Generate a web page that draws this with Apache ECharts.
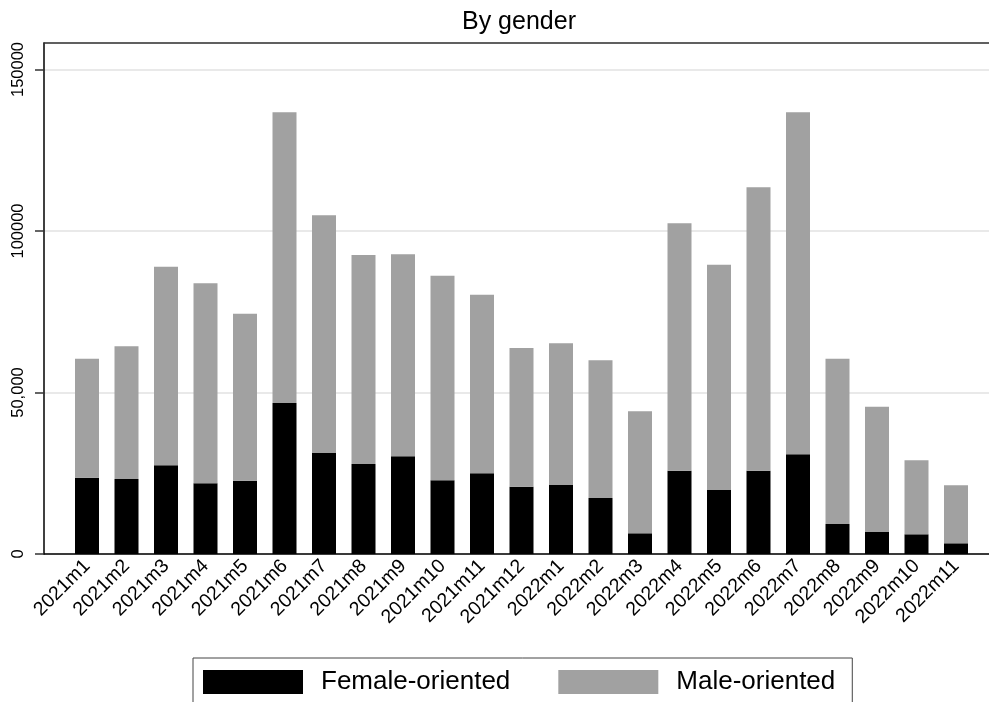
<!DOCTYPE html>
<html>
<head>
<meta charset="utf-8">
<script src="https://cdn.jsdelivr.net/npm/echarts@6/dist/echarts.min.js"></script>
<style>
  html, body { margin: 0; padding: 0; background: #fff; }
  #chart { width: 989px; height: 702px; }
</style>
</head>
<body>
<div id="chart"></div>
<script>
const categories = ['2021m1','2021m2','2021m3','2021m4','2021m5','2021m6','2021m7','2021m8','2021m9','2021m10','2021m11','2021m12',
  '2022m1','2022m2','2022m3','2022m4','2022m5','2022m6','2022m7','2022m8','2022m9','2022m10','2022m11'];
const female = [23620, 23220, 27460, 21890, 22690, 46750, 31270, 27860, 30250, 22820, 24980, 20840,
  21360, 17340, 6410, 25790, 19810, 25790, 30870, 9290, 6810, 6100, 3310];
const male = [36850, 41080, 61490, 61920, 51710, 90000, 73590, 64710, 62540, 63340, 55300, 42940,
  43870, 42630, 37770, 76600, 69760, 87740, 105880, 51180, 38790, 22910, 17960];
const yTicks = [0, 50000, 100000, 150000];
const yTickLabels = ['0', '50,000', '100000', '150000'];
const yMax = 158200;

const FONT = '"Liberation Sans", Arial, sans-serif';
const chart = echarts.init(document.getElementById('chart'), null, { renderer: 'canvas' });

chart.setOption({
  backgroundColor: '#ffffff',
  animation: false,
  textStyle: { fontFamily: FONT, color: '#000' },
  title: {
    text: 'By gender',
    left: 462, top: 10, padding: 0,
    textStyle: { fontFamily: FONT, fontSize: 25, fontWeight: 'normal', color: '#000' }
  },
  legend: {
    left: 193, top: 658,
    orient: 'horizontal',
    icon: 'rect',
    itemWidth: 100, itemHeight: 24,
    itemGap: 48,
    padding: [11, 17, 10, 10],
    borderColor: '#444', borderWidth: 1,
    textStyle: { fontFamily: FONT, fontSize: 26, color: '#000', padding: [0, 0, 0, 13] },
    data: ['Female-oriented', 'Male-oriented']
  },
  grid: [
    { left: 44, right: 0, top: 43, bottom: 148, containLabel: false },
    { left: 67.25, right: 13.25, top: 43, bottom: 148, containLabel: false }
  ],
  xAxis: [
    { gridIndex: 0, type: 'value', min: 0, max: 1, position: 'bottom',
      axisLine: { show: true, lineStyle: { color: '#000', width: 1.5 } },
      axisTick: { show: false }, axisLabel: { show: false }, splitLine: { show: false } },
    { gridIndex: 0, type: 'value', min: 0, max: 1, position: 'top',
      axisLine: { show: true, lineStyle: { color: '#333', width: 1.5 } },
      axisTick: { show: false }, axisLabel: { show: false }, splitLine: { show: false } },
    { gridIndex: 1, type: 'category', data: categories, boundaryGap: true,
      axisLine: { show: false }, axisTick: { show: false },
      axisLabel: { rotate: 45, margin: 9, fontSize: 19.5, fontFamily: FONT, color: '#000', interval: 0 } }
  ],
  yAxis: [
    { gridIndex: 0, type: 'value', min: 0, max: yMax, interval: 50000,
      axisLine: { show: true, lineStyle: { color: '#000', width: 1.5 } },
      axisTick: { show: true, length: 9, lineStyle: { color: '#333', width: 1.5 } },
      splitLine: { show: true, lineStyle: { color: '#e2e2e2', width: 1.5 } },
      axisLabel: {
        show: true, rotate: 90, margin: 17, fontSize: 16.5, fontFamily: FONT, color: '#000',
        showMaxLabel: false,
        formatter: function (v) { const i = yTicks.indexOf(v); return i >= 0 ? yTickLabels[i] : ''; }
      } },
    { gridIndex: 1, type: 'value', min: 0, max: yMax, show: false, splitLine: { show: false } }
  ],
  series: [
    { name: 'Female-oriented', type: 'bar', stack: 'g', xAxisIndex: 2, yAxisIndex: 1,
      data: female, barWidth: 24, itemStyle: { color: '#000000' } },
    { name: 'Male-oriented', type: 'bar', stack: 'g', xAxisIndex: 2, yAxisIndex: 1,
      data: male, barWidth: 24, itemStyle: { color: '#a1a1a1' } }
  ]
});
</script>
</body>
</html>
